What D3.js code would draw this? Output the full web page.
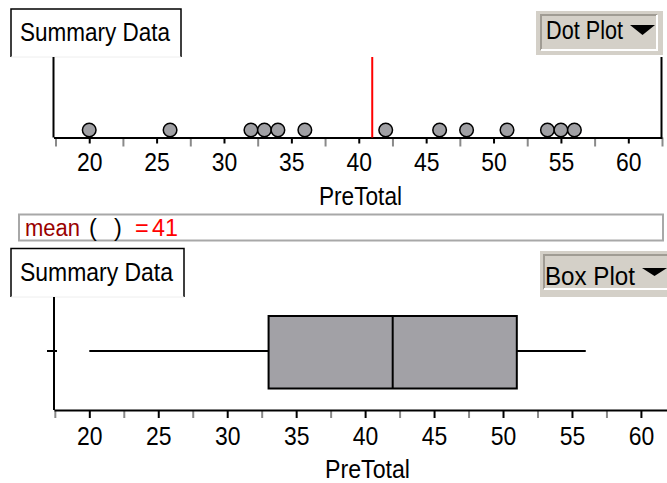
<!DOCTYPE html>
<html><head><meta charset="utf-8">
<script src="https://cdn.jsdelivr.net/npm/d3@7"></script>
<style>
html,body{margin:0;padding:0;background:#fff;}
svg{display:block;font-family:"Liberation Sans",Arial,sans-serif;}
</style></head>
<body><svg id="c" width="667" height="483"></svg>
<script>
// ---- data ----
const values = [20, 26, 32, 33, 34, 36, 42, 46, 48, 51, 54, 55, 56];
const boxLabels = ["min", "q1", "median", "q3", "max"];
const boxValues = [20, 33, 42, 51, 56];
const majorTicks = [20, 25, 30, 35, 40, 45, 50, 55, 60];
const minorTicks = [17.5, 22.5, 27.5, 32.5, 37.5, 42.5, 47.5, 52.5, 57.5, 62.5];
const axisTitle = "PreTotal";
const panelTitle = "Summary Data";
const topMenu = "Dot Plot";
const bottomMenu = "Box Plot";

const svg = d3.select("#c");
const box = Object.fromEntries(boxLabels.map((k, i) => [k, boxValues[i]]));
const meanVal = d3.mean(values);

function titleTab(x0, x1, y0, y1, tx, ty, tl) {
  const g = svg.append("g");
  g.append("path").attr("d", `M${x0},${y1}V${y0}H${x1}V${y1}`)
    .attr("fill", "none").attr("stroke", "#000").attr("stroke-width", 1.5);
  g.append("line").attr("x1", x0).attr("x2", x1).attr("y1", y1).attr("y2", y1)
    .attr("stroke", "#eee").attr("stroke-width", 1);
  g.append("text").attr("x", tx).attr("y", ty).attr("font-size", 26.5)
    .attr("textLength", tl).attr("lengthAdjust", "spacingAndGlyphs")
    .attr("fill", "#000").text(panelTitle);
}
function menuButton(x0, x1, y0, y1, ix0, ix1, iy0, iy1, label, tx, ty, tl, tri) {
  const g = svg.append("g");
  g.append("rect").attr("x", x0).attr("y", y0).attr("width", x1 - x0).attr("height", y1 - y0).attr("fill", "#d4d0c8");
  g.append("path").attr("d", `M${ix0},${iy1}V${iy0}H${ix1}`).attr("fill", "none").attr("stroke", "#a09c94").attr("stroke-width", 2);
  g.append("path").attr("d", `M${ix0},${iy1}H${ix1}V${iy0}`).attr("fill", "none").attr("stroke", "#fff").attr("stroke-width", 2);
  g.append("text").attr("x", tx).attr("y", ty).attr("font-size", 26.5)
    .attr("textLength", tl).attr("lengthAdjust", "spacingAndGlyphs").text(label);
  g.append("path").attr("d", `M${tri[0]},${tri[1]}H${tri[2]}L${(tri[0] + tri[2]) / 2},${tri[3]}Z`).attr("fill", "#000");
}
function drawAxis(x, y, majorLen, minorLen, pad) {
  const gMin = svg.append("g").attr("transform", `translate(0,${y})`)
    .call(d3.axisBottom(x).tickValues(minorTicks.filter(t => t >= x.domain()[0] - 0.2 && t <= x.domain()[1] + 0.2))
      .tickSize(minorLen).tickSizeOuter(0).tickFormat(""));
  gMin.select(".domain").remove();
  gMin.selectAll(".tick line").attr("stroke", "#8a8a8a").attr("stroke-width", 2);
  const gMaj = svg.append("g").attr("transform", `translate(0,${y})`)
    .call(d3.axisBottom(x).tickValues(majorTicks).tickSize(majorLen).tickSizeOuter(0).tickPadding(pad).tickFormat(d3.format("d")));
  gMaj.select(".domain").attr("stroke", "#000").attr("stroke-width", 2);
  gMaj.selectAll(".tick line").attr("stroke", "#000").attr("stroke-width", 2);
  gMaj.selectAll(".tick text").attr("font-size", 26).attr("fill", "#000")
    .attr("font-family", "Liberation Sans, Arial, sans-serif")
    .attr("textLength", 25.5).attr("lengthAdjust", "spacingAndGlyphs");
}

// ---------- top panel: dot plot ----------
titleTab(11, 181, 9, 57, 20, 41, 150);
menuButton(536, 663, 11, 55, 541, 657, 15, 50, topMenu, 546, 39, 77, [630, 25, 655, 35]);

const xTop = d3.scaleLinear().domain([17.35, 62.5]).range([53.5, 662]);
const yAxisTop = 137.5;
svg.append("line").attr("x1", 53.5).attr("x2", 53.5).attr("y1", 57).attr("y2", yAxisTop).attr("stroke", "#000").attr("stroke-width", 2);
svg.append("line").attr("x1", 661.5).attr("x2", 661.5).attr("y1", 57).attr("y2", yAxisTop).attr("stroke", "#000").attr("stroke-width", 2);
drawAxis(xTop, yAxisTop, 6, 9, 9.5);
svg.append("line").attr("x1", xTop(meanVal)).attr("x2", xTop(meanVal)).attr("y1", 57).attr("y2", yAxisTop)
  .attr("stroke", "#f00").attr("stroke-width", 2);
svg.append("g").selectAll("circle").data(values).join("circle")
  .attr("cx", d => xTop(d)).attr("cy", 130).attr("r", 6.8)
  .attr("fill", "#a0a0a4").attr("stroke", "#000").attr("stroke-width", 1.5);
svg.append("text").attr("x", 360.5).attr("y", 205).attr("text-anchor", "middle").attr("font-size", 26.5)
  .attr("textLength", 83).attr("lengthAdjust", "spacingAndGlyphs").text(axisTitle);

// ---------- mean box ----------
svg.append("rect").attr("x", 19).attr("y", 214.5).attr("width", 644).attr("height", 26)
  .attr("fill", "#fff").attr("stroke", "#a8a8a8").attr("stroke-width", 2);
const mt = svg.append("text").attr("x", 25).attr("y", 235.5).attr("font-size", 23.5);
mt.append("tspan").attr("fill", "#990000").attr("textLength", 55).attr("lengthAdjust", "spacingAndGlyphs").text("mean");
mt.append("tspan").attr("x", 89).attr("fill", "#000").text("(");
mt.append("tspan").attr("x", 114).attr("fill", "#000").text(")");
mt.append("tspan").attr("x", 135).attr("fill", "#f00").text("=");
mt.append("tspan").attr("x", 152).attr("fill", "#f00").attr("textLength", 26).attr("lengthAdjust", "spacingAndGlyphs").text(d3.format("d")(meanVal));

// ---------- bottom panel: box plot ----------
titleTab(11, 184, 248.5, 297, 20, 281, 153);
menuButton(540, 668, 251, 297, 544, 670, 255, 289, bottomMenu, 545, 285, 90, [642, 268, 667, 276]);

const xBot = d3.scaleLinear().domain([17.44, 62]).range([54, 668.5]);
const yAxisBot = 410;
svg.append("line").attr("x1", 54).attr("x2", 54).attr("y1", 297).attr("y2", yAxisBot).attr("stroke", "#000").attr("stroke-width", 2);
svg.append("line").attr("x1", 47).attr("x2", 57).attr("y1", 351).attr("y2", 351).attr("stroke", "#000").attr("stroke-width", 2);
drawAxis(xBot, yAxisBot, 8, 8, 9);

const yMid = 351, bTop = 316, bBot = 388.5;
svg.append("line").attr("x1", xBot(box.min)).attr("x2", xBot(box.q1)).attr("y1", yMid).attr("y2", yMid).attr("stroke", "#000").attr("stroke-width", 2);
svg.append("line").attr("x1", xBot(box.q3)).attr("x2", xBot(box.max)).attr("y1", yMid).attr("y2", yMid).attr("stroke", "#000").attr("stroke-width", 2);
svg.append("rect").attr("x", xBot(box.q1)).attr("y", bTop).attr("width", xBot(box.q3) - xBot(box.q1)).attr("height", bBot - bTop)
  .attr("fill", "#a2a1a6").attr("stroke", "#000").attr("stroke-width", 2);
svg.append("line").attr("x1", xBot(box.median)).attr("x2", xBot(box.median)).attr("y1", bTop).attr("y2", bBot).attr("stroke", "#000").attr("stroke-width", 2);
svg.append("text").attr("x", 367.5).attr("y", 478).attr("text-anchor", "middle").attr("font-size", 26.5)
  .attr("textLength", 85).attr("lengthAdjust", "spacingAndGlyphs").text(axisTitle);
</script></body></html>
